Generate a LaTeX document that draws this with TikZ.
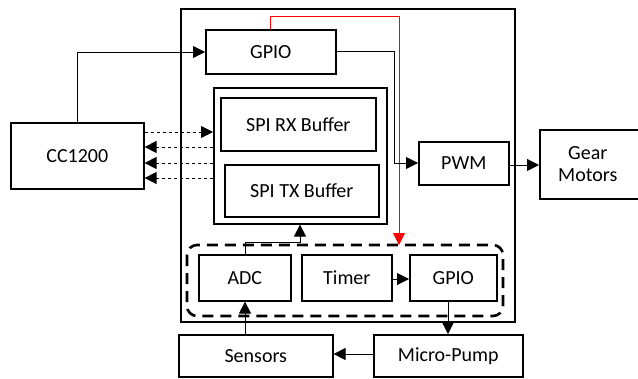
\documentclass[tikz,border=0pt]{standalone}
\usepackage{fontspec}
\setmainfont{Carlito}
\usetikzlibrary{arrows.meta}
\begin{document}
\begin{tikzpicture}[x=1pt,y=-1pt,
  blk/.style={draw,line width=1.6pt,inner sep=0pt,anchor=north west,align=center,font=\fontsize{20}{22}\selectfont},
  conn/.style={line width=0.8pt,-{Triangle[length=12pt,width=12pt]}},
  dconn/.style={line width=0.9pt,dashed,dash pattern=on 3.5pt off 2.5pt,-{Triangle[length=12pt,width=12pt]}},
  redc/.style={line width=0.8pt,red,-{Triangle[length=12pt,width=12pt]}}]
\useasboundingbox (0,0) rectangle (638,378);
% outer box
\node[blk,minimum width=334pt,minimum height=313pt] (mcu) at (180,8) {};
% CC1200
\node[blk,minimum width=133pt,minimum height=66pt] (cc) at (10,122) {CC1200};
% GPIO top
\node[blk,minimum width=130pt,minimum height=44pt] (gpio) at (205,29) {GPIO};
% SPI container
\node[blk,minimum width=173pt,minimum height=136pt] (spi) at (213,87) {};
\node[blk,minimum width=155pt,minimum height=53pt] (rx) at (220,97) {SPI RX Buffer};
\node[blk,minimum width=154pt,minimum height=52pt] (tx) at (224,164) {SPI TX Buffer};
% PWM
\node[blk,minimum width=90pt,minimum height=43pt] (pwm) at (418,141) {PWM};
% Gear Motors
\node[blk,minimum width=108pt,minimum height=69pt,text width=98pt] (gear) at (539,129) {\hspace*{-12pt}Gear\\\hspace*{-12pt}Motors};
% dashed group
\draw[line width=2.6pt,dash pattern=on 11pt off 7pt,rounded corners=10pt] (187,245) rectangle (503,316);
\node[blk,minimum width=92pt,minimum height=46pt] (adc) at (198,254) {ADC};
\node[blk,minimum width=90pt,minimum height=46pt] (timer) at (301,254) {Timer};
\node[blk,minimum width=87pt,minimum height=46pt] (gpio2) at (409,254) {GPIO};
% bottom
\node[blk,minimum width=154pt,minimum height=42pt] (sens) at (178,334) {Sensors};
\node[blk,minimum width=149pt,minimum height=42pt] (pump) at (373,334) {Micro-Pump};
% connectors
\coordinate (c1) at (77,52);
\draw[conn] (cc.north -| c1) -- (c1) -- (gpio.west |- c1);
\draw[dconn] (cc.east |- 0,132) -- (spi.west |- 0,132);
\foreach \yy in {147,163,178} \draw[dconn] (spi.west |- 0,\yy) -- (cc.east |- 0,\yy);
\coordinate (r1) at (270,16);
\coordinate (r2) at (399,16);
\coordinate (r3) at (399,245);
\draw[redc] (gpio.north -| r1) -- (r1) -- (r2) -- (r3);
\coordinate (g1) at (394,51);
\coordinate (g2) at (394,163);
\draw[conn] (gpio.east |- g1) -- (g1) -- (g2) -- (pwm.west |- g2);
\draw[conn] (pwm.east |- 0,165) -- (gear.west |- 0,165);
\coordinate (a1) at (245,242);
\coordinate (a2) at (300,242);
\draw[conn] (adc.north -| a1) -- (a1) -- (a2) -- (spi.south -| a2);
\draw[conn] (timer.east |- 0,279) -- (gpio2.west |- 0,279);
\draw[conn] (sens.north -| a1) -- (adc.south -| a1);
\coordinate (p1) at (448,300);
\draw[conn] (gpio2.south -| p1) -- (pump.north -| p1);
\draw[conn] (pump.west |- 0,354) -- (sens.east |- 0,354);
\end{tikzpicture}
\end{document}
